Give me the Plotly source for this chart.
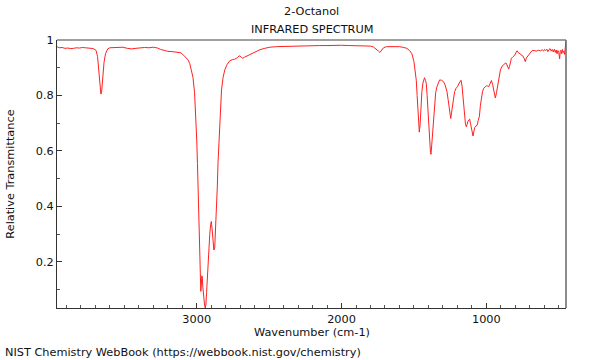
import plotly.graph_objects as go

wavenumber = [
    3965, 3950, 3930, 3910, 3890, 3870, 3850, 3830, 3810, 3790, 3770, 3750, 3730, 3710,
    3695, 3685, 3675, 3668, 3662, 3657, 3650, 3640, 3630, 3615, 3600, 3570, 3540, 3510,
    3480, 3450, 3420, 3390, 3360, 3330, 3300, 3270, 3250, 3220, 3200, 3170, 3140, 3110,
    3090, 3070, 3060, 3048, 3035, 3026, 3015, 3007, 3000, 2995, 2990, 2986, 2981, 2978,
    2975, 2972, 2968, 2965, 2962, 2958, 2952, 2946, 2941, 2937, 2932, 2926, 2922, 2916,
    2910, 2904, 2899, 2894, 2888, 2882, 2876, 2870, 2864, 2858, 2853, 2847, 2841, 2835,
    2829, 2818, 2806, 2790, 2772, 2755, 2737, 2720, 2707, 2695, 2684, 2670, 2650, 2633,
    2600, 2564, 2530, 2495, 2450, 2400, 2350, 2310, 2250, 2200, 2150, 2100, 2050, 2000,
    1950, 1900, 1850, 1800, 1780, 1760, 1745, 1735, 1725, 1710, 1690, 1650, 1600, 1570,
    1549, 1530, 1514, 1500, 1490, 1484, 1478, 1473, 1468, 1463, 1458, 1452, 1445, 1438,
    1432, 1427, 1421, 1415, 1409, 1403, 1397, 1392, 1386, 1382, 1377, 1372, 1365, 1358,
    1350, 1341, 1332, 1323, 1310, 1296, 1285, 1272, 1264, 1256, 1250, 1246, 1240, 1233,
    1226, 1219, 1210, 1199, 1187, 1175, 1168, 1161, 1155, 1150, 1144, 1138, 1132, 1127,
    1121, 1115, 1110, 1104, 1098, 1092, 1087, 1081, 1072, 1064, 1056, 1048, 1041, 1034,
    1026, 1018, 1009, 1000, 990, 983, 975, 965, 957, 949, 943, 938, 930, 922,
    912, 903, 892, 880, 870, 862, 854, 846, 840, 833, 827, 816, 804, 795,
    788, 780, 770, 758, 747, 738, 731, 724, 711, 698, 684, 670, 655, 640,
    626, 615, 605, 598, 590, 582, 575, 568, 560, 552, 545, 538, 530, 524,
    518, 512, 506, 500, 494, 490, 485, 480, 475, 470, 465, 460, 456, 452, 450,
]

transmittance = [
    0.976, 0.972, 0.973, 0.970, 0.971, 0.969, 0.970, 0.972, 0.971, 0.973, 0.972, 0.972, 0.970, 0.968,
    0.962, 0.940, 0.890, 0.840, 0.805, 0.812, 0.870, 0.920, 0.950, 0.968, 0.972, 0.973, 0.972, 0.974,
    0.970, 0.968, 0.970, 0.972, 0.973, 0.972, 0.974, 0.971, 0.966, 0.962, 0.959, 0.958, 0.957, 0.954,
    0.945, 0.935, 0.928, 0.915, 0.890, 0.865, 0.810, 0.738, 0.640, 0.555, 0.440, 0.316, 0.220, 0.150,
    0.110, 0.094, 0.120, 0.150, 0.148, 0.110, 0.070, 0.045, 0.034, 0.045, 0.090, 0.160, 0.197, 0.260,
    0.300, 0.335, 0.346, 0.320, 0.270, 0.243, 0.250, 0.310, 0.378, 0.470, 0.558, 0.640, 0.712, 0.775,
    0.820, 0.865, 0.893, 0.912, 0.925, 0.929, 0.931, 0.936, 0.943, 0.940, 0.934, 0.938, 0.943, 0.947,
    0.956, 0.965, 0.970, 0.974, 0.976, 0.977, 0.978, 0.979, 0.979, 0.980, 0.980, 0.980, 0.981, 0.981,
    0.980, 0.980, 0.979, 0.978, 0.975, 0.968, 0.960, 0.955, 0.962, 0.972, 0.976, 0.977, 0.976, 0.973,
    0.970, 0.962, 0.950, 0.922, 0.880, 0.855, 0.800, 0.737, 0.690, 0.668, 0.690, 0.760, 0.815, 0.845,
    0.860, 0.864, 0.855, 0.844, 0.800, 0.738, 0.680, 0.630, 0.595, 0.588, 0.620, 0.678, 0.730, 0.773,
    0.810, 0.832, 0.848, 0.856, 0.855, 0.850, 0.838, 0.814, 0.785, 0.749, 0.725, 0.717, 0.740, 0.773,
    0.798, 0.814, 0.825, 0.832, 0.845, 0.855, 0.835, 0.797, 0.750, 0.713, 0.695, 0.687, 0.700, 0.707,
    0.712, 0.715, 0.700, 0.684, 0.665, 0.654, 0.668, 0.684, 0.690, 0.692, 0.710, 0.725, 0.765, 0.797,
    0.815, 0.826, 0.832, 0.835, 0.834, 0.832, 0.842, 0.854, 0.840, 0.820, 0.800, 0.791, 0.810, 0.832,
    0.865, 0.892, 0.905, 0.913, 0.916, 0.916, 0.908, 0.895, 0.905, 0.925, 0.934, 0.940, 0.945, 0.955,
    0.961, 0.955, 0.950, 0.946, 0.942, 0.932, 0.922, 0.935, 0.945, 0.955, 0.962, 0.962, 0.960, 0.963,
    0.961, 0.965, 0.960, 0.966, 0.962, 0.967, 0.958, 0.965, 0.969, 0.960, 0.966, 0.957, 0.967, 0.955,
    0.964, 0.950, 0.962, 0.955, 0.932, 0.958, 0.963, 0.950, 0.966, 0.955, 0.960, 0.948, 0.963, 0.970, 0.995,
]

x_major_ticks = [3000, 2000, 1000]
x_tick_labels = ["3000", "2000", "1000"]
y_major_ticks = [0.2, 0.4, 0.6, 0.8, 1.0]
y_tick_labels = ["0.2", "0.4", "0.6", "0.8", "1"]

FONT = "DejaVu Sans"
FS = 11.3
AX = "#333333"
TXT = "#111111"

fig = go.Figure()
fig.add_trace(go.Scatter(
    x=wavenumber, y=transmittance, mode="lines",
    line=dict(color="#ff2020", width=1), hoverinfo="skip", showlegend=False,
))

fig.update_layout(
    width=600, height=360,
    margin=dict(l=57, r=34, t=40, b=52),
    paper_bgcolor="white", plot_bgcolor="white",
    font=dict(family=FONT, size=FS, color=TXT),
    xaxis=dict(
        range=[3965, 450], showgrid=False, zeroline=False,
        showline=True, linecolor=AX, linewidth=1,
        tickmode="array", tickvals=x_major_ticks, ticktext=x_tick_labels,
        ticks="inside", ticklen=5, tickcolor=AX, tickwidth=1,
        minor=dict(dtick=100, tick0=0, ticks="inside", ticklen=3, tickcolor="#555555", showgrid=False),
        tickfont=dict(family=FONT, size=FS, color=TXT),
    ),
    yaxis=dict(
        range=[0.034, 1.0], showgrid=False, zeroline=False,
        showline=True, linecolor=AX, linewidth=1,
        tickmode="array", tickvals=y_major_ticks, ticktext=y_tick_labels,
        ticks="inside", ticklen=5, tickcolor=AX, tickwidth=1,
        minor=dict(dtick=0.1, tick0=0, ticks="inside", ticklen=3, tickcolor="#555555", showgrid=False),
        tickfont=dict(family=FONT, size=FS, color=TXT),
    ),
    shapes=[
        dict(type="line", xref="paper", yref="paper", x0=0, x1=1, y0=1, y1=1,
             line=dict(color="#a0a0a0", width=2)),
        dict(type="line", xref="paper", yref="paper", x0=1, x1=1, y0=0, y1=1,
             line=dict(color="#666666", width=1.5)),
    ],
    annotations=[
        dict(text="2-Octanol", xref="paper", yref="paper", x=0.5, y=1.1056,
             showarrow=False, xanchor="center", yanchor="middle",
             font=dict(family=FONT, size=FS, color=TXT)),
        dict(text="INFRARED SPECTRUM", xref="paper", yref="paper", x=0.5, y=1.0384,
             showarrow=False, xanchor="center", yanchor="middle",
             font=dict(family=FONT, size=FS, color=TXT)),
        dict(text="Wavenumber (cm-1)", xref="paper", yref="paper", x=0.5, y=-0.092,
             showarrow=False, xanchor="center", yanchor="middle",
             font=dict(family=FONT, size=FS, color=TXT)),
        dict(text="Relative Transmittance", xref="paper", yref="paper", x=-0.093, y=0.5,
             showarrow=False, xanchor="center", yanchor="middle", textangle=-90,
             font=dict(family=FONT, size=FS, color=TXT)),
        dict(text="NIST Chemistry WebBook (https://webbook.nist.gov/chemistry)",
             xref="paper", yref="paper", x=-0.1068, y=-0.1668,
             showarrow=False, xanchor="left", yanchor="middle",
             font=dict(family=FONT, size=FS, color=TXT)),
    ],
)

fig.write_html(
    "out.html",
    config={"displayModeBar": False},
    post_script="document.body.style.margin='0';document.body.style.overflow='hidden';",
)
